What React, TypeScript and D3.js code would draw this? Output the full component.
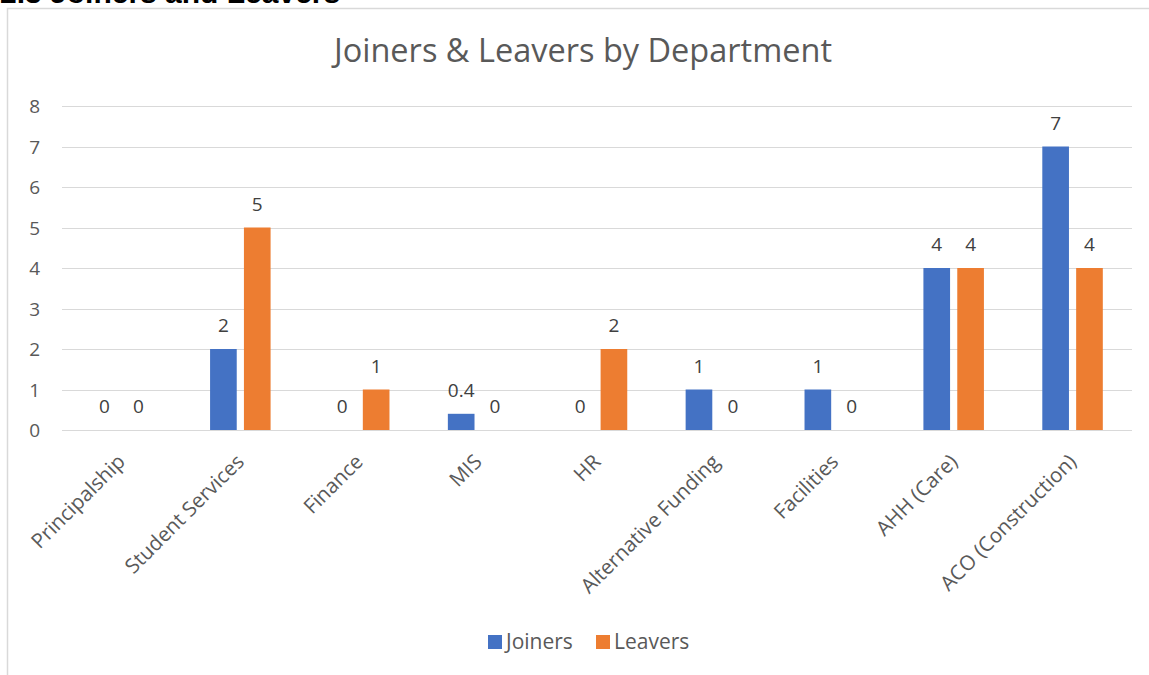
import React from "react";
import * as d3 from "d3";

const categories = ["Principalship", "Student Services", "Finance", "MIS", "HR", "Alternative Funding", "Facilities", "AHH (Care)", "ACO (Construction)"];
const joiners = [0, 2, 0, 0.4, 0, 1, 1, 4, 7];
const leavers = [0, 5, 1, 0, 2, 0, 0, 4, 4];
const seriesNames = ["Joiners", "Leavers"];
const seriesColors = ["#4472C4", "#ED7D31"];
const yTicks = [0, 1, 2, 3, 4, 5, 6, 7, 8];
const chartTitle = "Joiners & Leavers by Department";
const heading = "2.3 Joiners and Leavers";

const W = 1149, H = 675;
const FONT = "'Open Sans', 'Noto Sans', sans-serif";

export default function App() {
  const left = 62, right = 1132, top = 106, bottom = 430;
  const x = d3.scaleBand<string>().domain(categories).range([left, right]);
  const y = d3.scaleLinear().domain([0, 8]).range([bottom, top]);
  const bw = x.bandwidth();
  const barW = bw / 4.46;
  const gap = barW * 0.27;
  const sub = d3.scaleOrdinal<string, number>().domain(seriesNames).range([-(gap / 2 + barW), gap / 2]);
  const series = [joiners, leavers];

  return (
    <div style={{ position: "fixed", left: 0, top: 0, width: W, height: H, background: "#fff" }}>
      <svg width={W} height={H} style={{ display: "block" }}>
        <text x={0} y={3} fontFamily="'Liberation Sans', Arial, sans-serif" fontWeight="bold" fontSize={30} fill="#000">{heading}</text>
        <rect x={7.5} y={8.5} width={1160} height={700} fill="none" stroke="#d9d9d9" strokeWidth={1.5} />
        <text x={583} y={62} textAnchor="middle" fontFamily={FONT} fontSize={32.5} fill="#595959">{chartTitle}</text>
        {yTicks.map((t) => (
          <g key={t}>
            <line x1={left} x2={right} y1={Math.round(y(t)) + 0.5} y2={Math.round(y(t)) + 0.5} stroke="#d9d9d9" strokeWidth={1} />
            <text x={40} y={y(t) + 7} textAnchor="end" fontFamily={FONT} fontSize={19} fill="#595959">{t}</text>
          </g>
        ))}
        {series.map((vals, si) => (
          <g key={si}>
            {vals.map((v, i) => {
              const cx = (x(categories[i]) as number) + bw / 2;
              const bx = cx + sub(seriesNames[si]);
              return (
                <g key={i}>
                  {v > 0 && <rect x={bx} y={y(v)} width={barW} height={bottom - y(v)} fill={seriesColors[si]} />}
                  <text x={bx + barW / 2} y={y(v) - 17} textAnchor="middle" fontFamily={FONT} fontSize={19} fill="#404040">{v}</text>
                </g>
              );
            })}
          </g>
        ))}
        {categories.map((c) => {
          const cx = (x(c) as number) + bw / 2;
          return (
            <text key={c} transform={`translate(${cx + 5},${bottom + 33}) rotate(-45)`} textAnchor="end" fontFamily={FONT} fontSize={20.5} fill="#595959">{c}</text>
          );
        })}
        {seriesNames.map((s, i) => {
          const lx = i === 0 ? 488 : 596;
          return (
            <g key={s}>
              <rect x={lx} y={635} width={14} height={14} fill={seriesColors[i]} />
              <text x={lx + 18} y={649} fontFamily={FONT} fontSize={21} fill="#595959">{s}</text>
            </g>
          );
        })}
      </svg>
    </div>
  );
}
